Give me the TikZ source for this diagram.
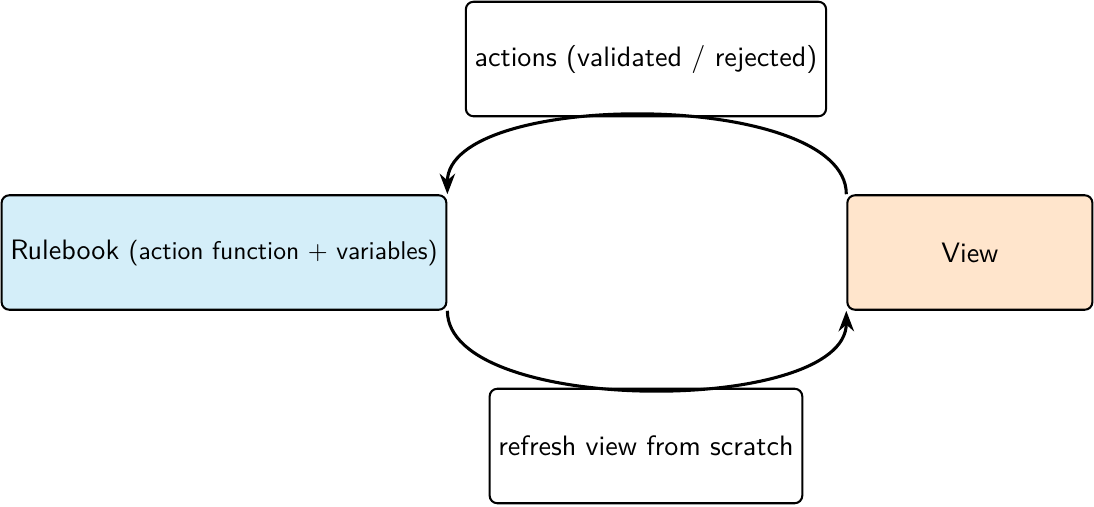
\documentclass[tikz,border=0pt,11pt]{standalone}
\usepackage{xcolor}
\usepackage{tikz}
\usetikzlibrary{arrows.meta,positioning,calc}
\definecolor{ink}{HTML}{000000}
\definecolor{sky}{HTML}{D4EEF9}
\definecolor{peach}{HTML}{FFE5CC}
\tikzset{
  box/.style={rectangle, rounded corners=3pt, draw=ink, fill=white, thick,
              align=center, inner sep=3.4pt, minimum height=1.57cm, font=\sffamily},
  rulebox/.style={box, fill=sky, minimum width=6.09cm},
  viewbox/.style={box, fill=peach, minimum width=3.36cm},
  notebox/.style={box},
  flow/.style={-{Stealth[length=8pt,width=6pt]}, draw=ink, very thick},
}

\begin{document}
\begin{tikzpicture}
\useasboundingbox (0,0) rectangle (15,-6.938);
% the two sides of the loop
\node[rulebox] (rule) at (3.071,-3.462) {Rulebook {\small(action function + variables)}};
\node[viewbox, right=5.47cm of rule] (view) {View};
% what travels between them
\node[notebox, minimum width=4.94cm] (acts) at (8.857,-0.809) {actions (validated / rejected)};
\node[notebox, minimum width=4.28cm] (refresh) at (8.857,-6.115) {refresh view from scratch};
\draw[flow] (view.north west) .. controls +(0,1.44) and +(0,1.44) .. (rule.north east);
\draw[flow] (rule.south east) .. controls +(0,-1.44) and +(0,-1.44) .. (view.south west);
\end{tikzpicture}
\end{document}
